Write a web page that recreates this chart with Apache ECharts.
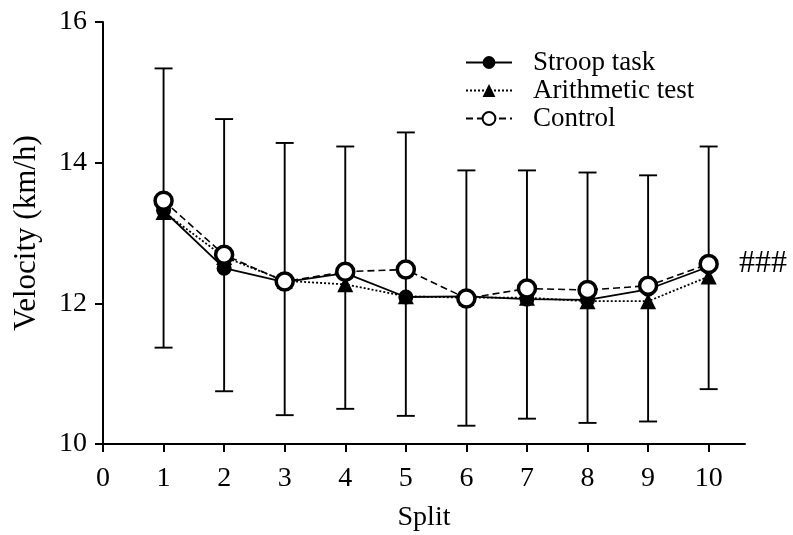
<!DOCTYPE html>
<html>
<head>
<meta charset="utf-8">
<script src="https://cdn.jsdelivr.net/npm/echarts@6/dist/echarts.min.js"></script>
<style>
  html, body { margin: 0; padding: 0; background: #fff; }
  #chart { width: 793px; height: 535px; }
</style>
</head>
<body>
<div id="chart"></div>
<script>
// Velocity per split for each condition (km/h)
const splits = [1, 2, 3, 4, 5, 6, 7, 8, 9, 10];
const stroop = [13.32, 12.50, 12.30, 12.43, 12.09, 12.10, 12.06, 12.05, 12.20, 12.52];
const arithmetic = [13.30, 12.66, 12.32, 12.27, 12.10, 12.08, 12.08, 12.03, 12.03, 12.38];
const control = [13.46, 12.69, 12.31, 12.45, 12.48, 12.07, 12.21, 12.19, 12.25, 12.56];
// Error bar extents per split
const errLow = [11.37, 10.75, 10.41, 10.50, 10.40, 10.26, 10.36, 10.30, 10.32, 10.78];
const errHigh = [15.34, 14.62, 14.28, 14.23, 14.43, 13.89, 13.89, 13.86, 13.82, 14.23];
const xTicks = [0, 1, 2, 3, 4, 5, 6, 7, 8, 9, 10];
const yTicks = [10, 12, 14, 16];

const FONT = '"Liberation Serif", "DejaVu Serif", serif';

const pair = (xs, ys) => xs.map((x, i) => [x, ys[i]]);
const errData = splits.map((x, i) => [x, errLow[i], errHigh[i]]);

const chart = echarts.init(document.getElementById('chart'), null, { renderer: 'canvas' });

chart.setOption({
  animation: false,
  backgroundColor: '#ffffff',
  textStyle: { fontFamily: FONT, color: '#000' },
  grid: { left: 103, right: 48, top: 22, bottom: 91, containLabel: false, outerBoundsMode: 'none' },
  legend: {
    orient: 'vertical',
    left: 460,
    top: 44,
    itemWidth: 46,
    itemHeight: 16,
    itemGap: 1,
    textStyle: { fontFamily: FONT, fontSize: 27, color: '#000', padding: [0, 0, 0, 16], lineHeight: 27 },
    data: ['Stroop task', 'Arithmetic test', 'Control']
  },
  xAxis: {
    type: 'value',
    min: 0,
    max: 10.6,
    interval: 1,
    name: 'Split',
    nameLocation: 'middle',
    nameGap: 60,
    nameTextStyle: { fontFamily: FONT, fontSize: 28, color: '#000' },
    axisLine: { show: true, onZero: false, lineStyle: { color: '#000', width: 2 } },
    axisTick: { show: true, length: 8, customValues: xTicks, lineStyle: { color: '#000', width: 2 } },
    axisLabel: { customValues: xTicks, margin: 21, fontFamily: FONT, fontSize: 28, color: '#000' },
    splitLine: { show: false }
  },
  yAxis: {
    type: 'value',
    min: 10,
    max: 16,
    interval: 2,
    name: 'Velocity (km/h)',
    nameLocation: 'middle',
    nameGap: 61,
    nameRotate: 90,
    nameTextStyle: { fontFamily: FONT, fontSize: 31, color: '#000' },
    axisLine: { show: true, lineStyle: { color: '#000', width: 2 } },
    axisTick: { show: true, length: 8, customValues: yTicks, lineStyle: { color: '#000', width: 2 } },
    axisLabel: { customValues: yTicks, margin: 16, fontFamily: FONT, fontSize: 28, color: '#000' },
    splitLine: { show: false }
  },
  series: [
    {
      name: 'Error',
      type: 'custom',
      z: 1,
      data: errData,
      renderItem: function (params, api) {
        const x = api.value(0);
        const lo = api.coord([x, api.value(1)]);
        const hi = api.coord([x, api.value(2)]);
        const half = 9;
        const style = { stroke: '#000', lineWidth: 1.9 };
        return {
          type: 'group',
          children: [
            { type: 'line', shape: { x1: lo[0], y1: lo[1], x2: hi[0], y2: hi[1] }, style },
            { type: 'line', shape: { x1: hi[0] - half, y1: hi[1], x2: hi[0] + half, y2: hi[1] }, style },
            { type: 'line', shape: { x1: lo[0] - half, y1: lo[1], x2: lo[0] + half, y2: lo[1] }, style }
          ]
        };
      }
    },
    {
      name: 'Stroop task',
      type: 'line',
      z: 3,
      data: pair(splits, stroop),
      symbol: 'circle',
      symbolSize: 15,
      lineStyle: { color: '#000', width: 1.8, type: 'solid' },
      itemStyle: { color: '#000', borderColor: '#000', borderWidth: 0 }
    },
    {
      name: 'Arithmetic test',
      type: 'line',
      z: 4,
      data: pair(splits, arithmetic),
      symbol: 'triangle',
      symbolSize: 16,
      lineStyle: { color: '#000', width: 1.8, type: [2, 2] },
      itemStyle: { color: '#000', borderColor: '#000', borderWidth: 0 }
    },
    {
      name: 'Control',
      type: 'line',
      z: 5,
      data: pair(splits, control).map((d, i) => i === control.length - 1
        ? { value: d, label: { show: true, formatter: '###', position: 'right', distance: 20, fontFamily: FONT, fontSize: 32, color: '#000' } }
        : d),
      symbol: 'circle',
      symbolSize: 17,
      lineStyle: { color: '#000', width: 1.6, type: [7, 4] },
      itemStyle: { color: '#fff', borderColor: '#000', borderWidth: 3.5 }
    }
  ]
});
</script>
</body>
</html>
